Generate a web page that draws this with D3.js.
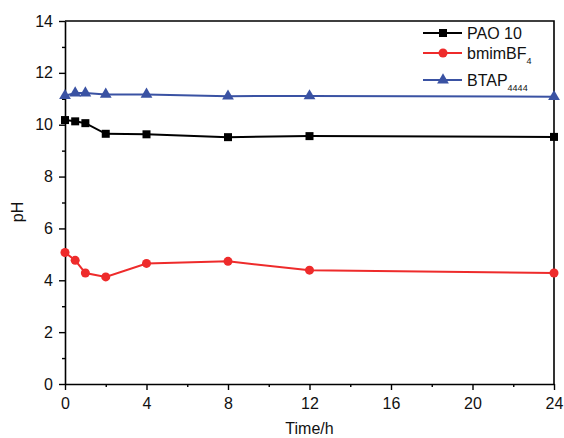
<!DOCTYPE html>
<html>
<head>
<meta charset="utf-8">
<script src="https://cdn.jsdelivr.net/npm/d3@7"></script>
<style>
  body { margin: 0; background: #fff; }
  svg { font-family: "Liberation Sans", Arial, sans-serif; }
</style>
</head>
<body>
<script>
// Data
const time = [0, 0.5, 1, 2, 4, 8, 12, 24];
const pao10 = [10.18, 10.13, 10.06, 9.65, 9.63, 9.52, 9.56, 9.53];
const bmimBF4 = [5.07, 4.77, 4.28, 4.13, 4.65, 4.73, 4.39, 4.28];
const btap4444 = [11.12, 11.22, 11.22, 11.17, 11.17, 11.10, 11.11, 11.08];

const xTicks = [0, 4, 8, 12, 16, 20, 24];
const xMinor = [2, 6, 10, 14, 18, 22];
const yTicks = [0, 2, 4, 6, 8, 10, 12, 14];
const yMinor = [1, 3, 5, 7, 9, 11, 13];

const series = [
  { name: 'PAO 10', sub: '', values: pao10, color: '#000000', shape: d3.symbolSquare },
  { name: 'bmimBF', sub: '4', values: bmimBF4, color: '#ee2b2b', shape: d3.symbolCircle },
  { name: 'BTAP', sub: '4444', values: btap4444, color: '#3a52a3', shape: d3.symbolTriangle }
];

const W = 564, H = 438;
const plotLeft = 65, plotRight = 554, plotTop = 21, plotBottom = 384;

const svg = d3.select('body').append('svg')
  .attr('width', W)
  .attr('height', H);

const x = d3.scaleLinear().domain([0, 24]).range([plotLeft, plotRight]);
const y = d3.scaleLinear().domain([0, 14]).range([plotBottom, plotTop]);

// Axes
function styleAxis(g) {
  g.selectAll('path').attr('stroke', '#000').attr('stroke-width', 1.6);
  g.selectAll('line').attr('stroke', '#000').attr('stroke-width', 1.4);
  g.selectAll('text').attr('font-size', 16).attr('fill', '#111');
}

svg.append('g')
  .attr('transform', `translate(0,${plotBottom})`)
  .call(d3.axisBottom(x).tickValues(xTicks).tickSize(6).tickSizeOuter(0).tickPadding(8).tickFormat(d3.format('d')))
  .call(styleAxis);

svg.append('g')
  .attr('transform', `translate(0,${plotBottom})`)
  .call(d3.axisBottom(x).tickValues(xMinor).tickSize(3).tickSizeOuter(0).tickFormat(''))
  .call(styleAxis)
  .call(g => g.select('path').remove());

svg.append('g')
  .attr('transform', `translate(${plotLeft},0)`)
  .call(d3.axisLeft(y).tickValues(yTicks).tickSize(6).tickSizeOuter(0).tickPadding(6).tickFormat(d3.format('d')))
  .call(styleAxis);

svg.append('g')
  .attr('transform', `translate(${plotLeft},0)`)
  .call(d3.axisLeft(y).tickValues(yMinor).tickSize(3).tickSizeOuter(0).tickFormat(''))
  .call(styleAxis)
  .call(g => g.select('path').remove());

// top and right frame
svg.append('path')
  .attr('d', `M${x(0)},${y(14)}H${x(24)}V${y(0)}`)
  .attr('fill', 'none')
  .attr('stroke', '#000')
  .attr('stroke-width', 1.6);

// Axis titles
svg.append('text')
  .attr('x', (plotLeft + plotRight) / 2)
  .attr('y', 434)
  .attr('text-anchor', 'middle')
  .attr('font-size', 16)
  .attr('fill', '#111')
  .text('Time/h');

svg.append('text')
  .attr('transform', 'translate(23,212) rotate(-90)')
  .attr('text-anchor', 'middle')
  .attr('font-size', 16)
  .attr('fill', '#111')
  .text('pH');

// Lines and markers
const line = d3.line()
  .x((d, i) => x(time[i]))
  .y(d => y(d));

series.forEach(s => {
  svg.append('path')
    .datum(s.values)
    .attr('d', line)
    .attr('fill', 'none')
    .attr('stroke', s.color)
    .attr('stroke-width', 2);

  svg.selectAll(null)
    .data(s.values)
    .enter().append('path')
    .attr('transform', (d, i) => `translate(${x(time[i])},${y(d)})`)
    .attr('d', d3.symbol().type(s.shape).size(s.shape === d3.symbolTriangle ? 60 : 64))
    .attr('fill', s.color);
});

// Legend
const legendY = [33, 53, 80];
series.forEach((s, i) => {
  const g = svg.append('g').attr('transform', `translate(0,${legendY[i]})`);
  g.append('line')
    .attr('x1', 423).attr('x2', 462)
    .attr('stroke', s.color).attr('stroke-width', 2);
  g.append('path')
    .attr('transform', 'translate(443,0)')
    .attr('d', d3.symbol().type(s.shape).size(s.shape === d3.symbolTriangle ? 60 : 64))
    .attr('fill', s.color);
  const t = g.append('text')
    .attr('x', 467)
    .attr('y', 6)
    .attr('font-size', 16)
    .attr('fill', '#111')
    .text(s.name);
  if (s.sub) {
    t.append('tspan')
      .attr('font-size', 9)
      .attr('dy', 5)
      .text(s.sub);
  }
});
</script>
</body>
</html>
